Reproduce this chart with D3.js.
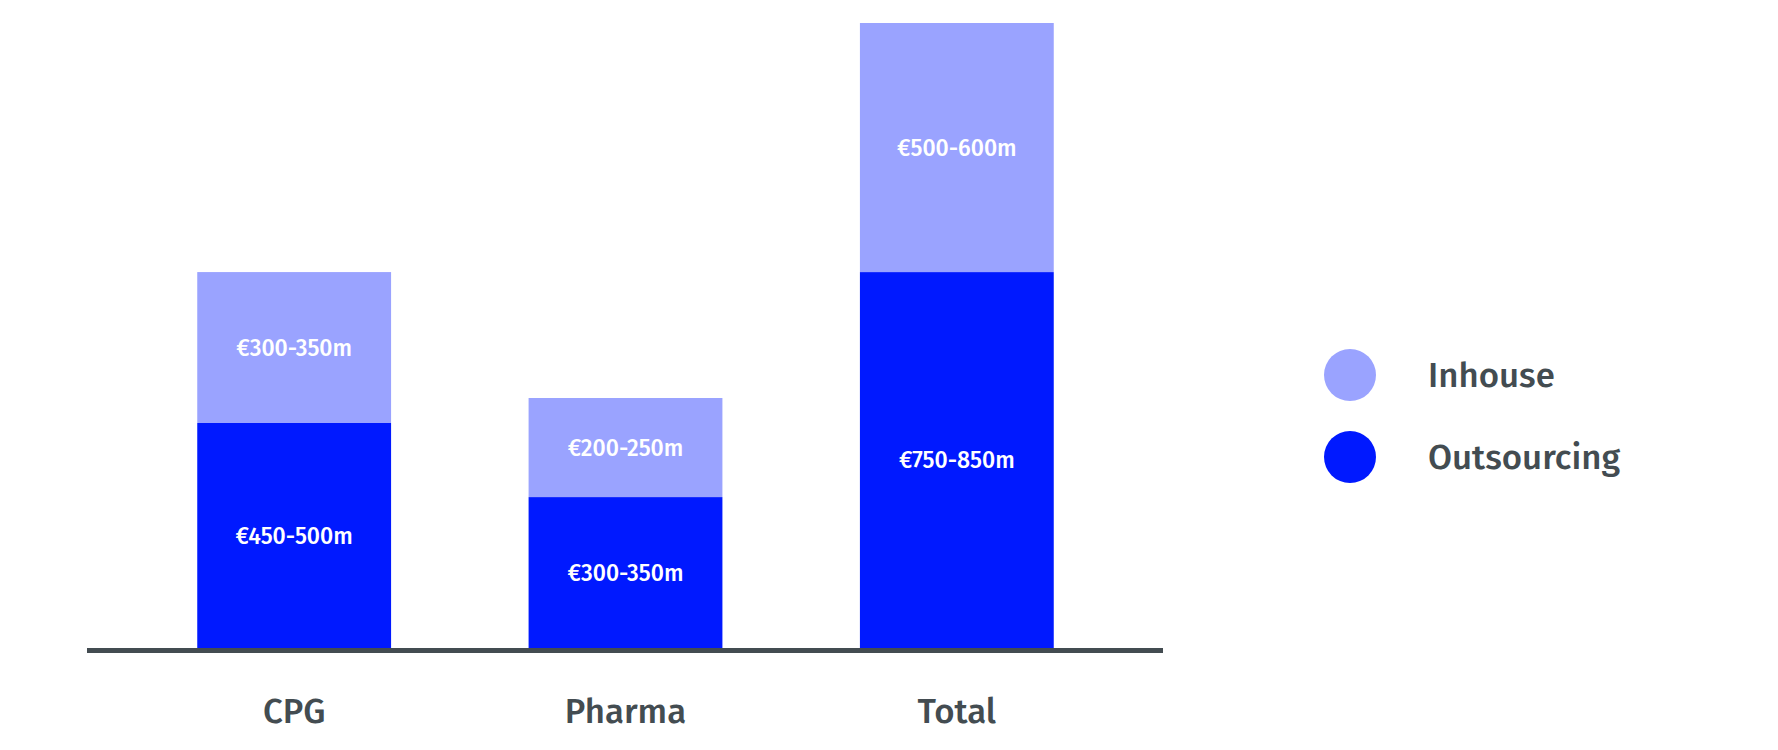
<!DOCTYPE html>
<html>
<head>
<meta charset="utf-8">
<script src="https://cdn.jsdelivr.net/npm/d3@7"></script>
<style>
  html, body { margin: 0; padding: 0; background: #fff; }
  svg text { font-family: "Fira Sans", "Lato", "Roboto", sans-serif; }
</style>
</head>
<body>
<div id="chart"></div>
<script>
// categories and stacked series (€m)
const categories = ["CPG", "Pharma", "Total"];
const outsourcing = [486, 326, 812];
const inhouse = [326, 214, 538];
const outsourcingLabels = ["€450-500m", "€300-350m", "€750-850m"];
const inhouseLabels = ["€300-350m", "€200-250m", "€500-600m"];
const seriesNames = ["Inhouse", "Outsourcing"];

const colors = { Inhouse: "#9aa3ff", Outsourcing: "#0019ff" };
const textColor = "#434c51";

const width = 1778, height = 750;

const svg = d3.select("#chart").append("svg")
    .attr("width", width)
    .attr("height", height);

const xScale = d3.scaleBand()
    .domain(categories)
    .range([128.5, 1122.5])
    .paddingInner(0.415)
    .paddingOuter(0.2075);

const yScale = d3.scaleLinear()
    .domain([0, 1350])
    .range([648, 23]);

const rows = categories.map((c, i) => ({
    cat: c,
    Outsourcing: outsourcing[i],
    Inhouse: inhouse[i],
    outLabel: outsourcingLabels[i],
    inLabel: inhouseLabels[i]
}));

// bottom to top: outsourcing then inhouse
const stack = d3.stack().keys(["Outsourcing", "Inhouse"]);
const layers = stack(rows);

const g = svg.append("g");

layers.forEach(layer => {
    const key = layer.key;
    g.append("g").selectAll("rect")
        .data(layer)
        .enter()
        .append("rect")
        .attr("x", d => xScale(d.data.cat))
        .attr("y", d => yScale(d[1]))
        .attr("width", xScale.bandwidth())
        .attr("height", d => yScale(d[0]) - yScale(d[1]))
        .attr("fill", colors[key]);

    g.append("g").selectAll("text")
        .data(layer)
        .enter()
        .append("text")
        .attr("x", d => xScale(d.data.cat) + xScale.bandwidth() / 2)
        .attr("y", d => (yScale(d[0]) + yScale(d[1])) / 2)
        .attr("text-anchor", "middle")
        .attr("dominant-baseline", "central")
        .attr("fill", "#fff")
        .style("font-size", "23px")
        .style("font-weight", 500)
        .text(d => key === "Outsourcing" ? d.data.outLabel : d.data.inLabel);
});

// x axis
const xAxis = svg.append("g")
    .attr("transform", "translate(0,650.5)")
    .call(d3.axisBottom(xScale).tickSize(0));

xAxis.select(".domain")
    .attr("d", "M87,0H1163")
    .attr("stroke", textColor)
    .attr("stroke-width", 5);

xAxis.selectAll(".tick text")
    .attr("fill", textColor)
    .attr("dy", "0")
    .attr("y", 72.5)
    .style("font-family", "\"Fira Sans\", \"Lato\", \"Roboto\", sans-serif")
    .style("font-size", "34.8px")
    .style("font-weight", 500);

// legend
const legend = svg.append("g").selectAll("g")
    .data(seriesNames)
    .enter()
    .append("g")
    .attr("transform", (d, i) => "translate(1350," + (375 + i * 82) + ")");

legend.append("circle")
    .attr("r", 26)
    .attr("fill", d => colors[d]);

legend.append("text")
    .attr("x", 78)
    .attr("y", 0)
    .attr("dominant-baseline", "central")
    .attr("fill", textColor)
    .style("font-size", "34.8px")
    .style("font-weight", 500)
    .text(d => d);
</script>
</body>
</html>
